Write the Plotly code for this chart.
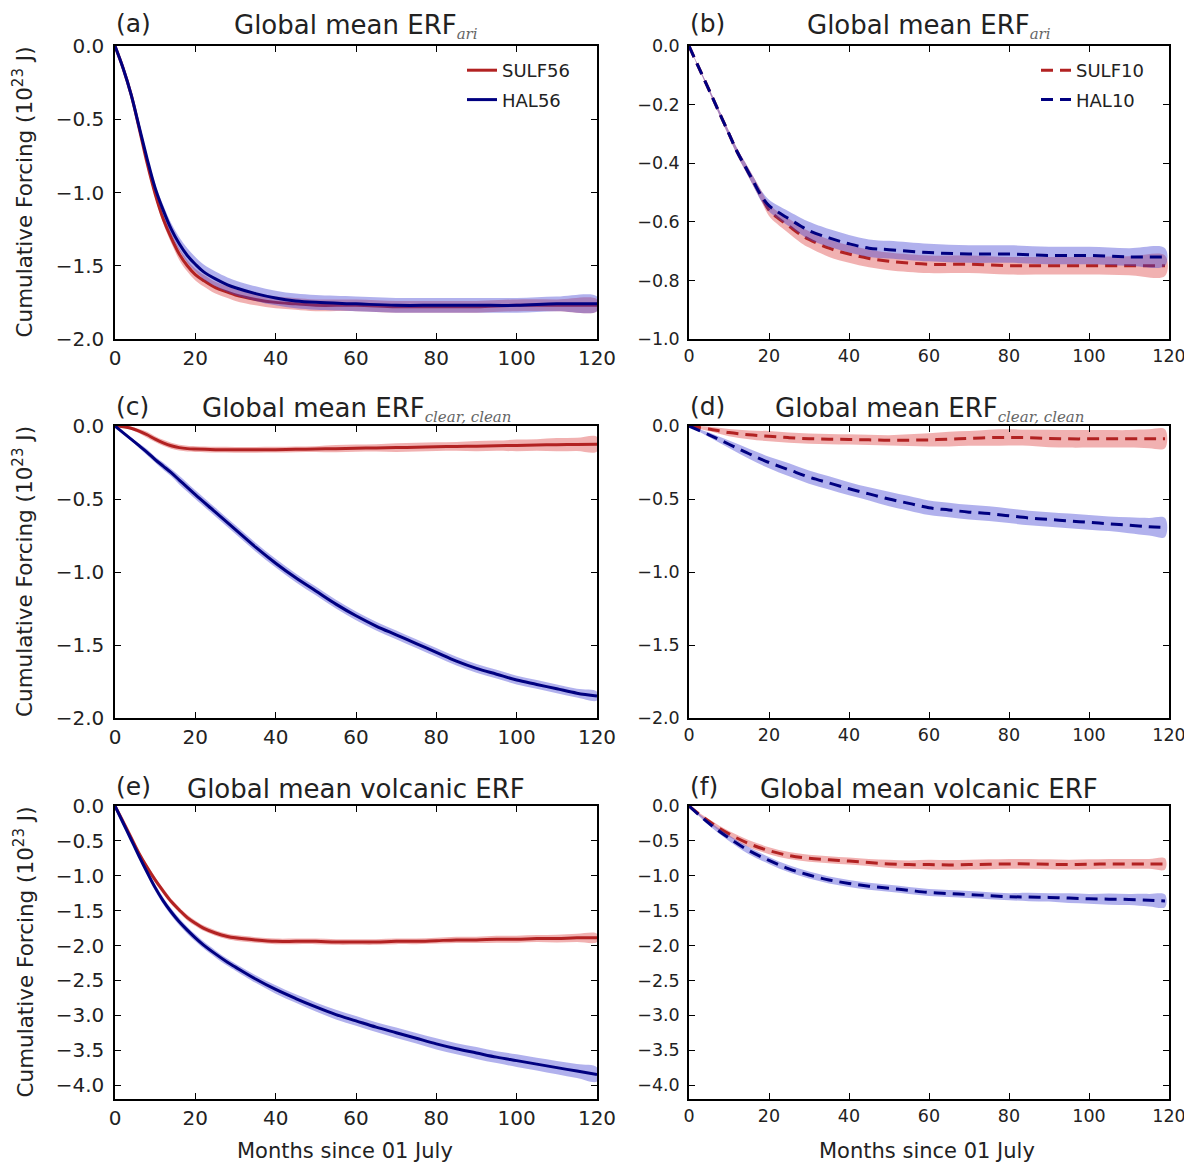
import plotly.graph_objects as go

# page is 1192x1167; the html body keeps an 8px margin, so the figure starts at (8, 8)
PAGE_W, PAGE_H = 1192, 1167
OFF = 8
W, H = PAGE_W - OFF, PAGE_H - OFF

# ---------------- data ----------------
# Panel (a) ERF_ari, 56 runs
months_a = [0, 2, 4, 6, 8, 10, 12, 14, 16, 18, 20, 22, 25, 28, 30, 35, 40, 45, 50, 60, 70, 80, 90, 100, 110, 120]
sulf56_a = [0, -0.15, -0.33, -0.56, -0.80, -1.01, -1.18, -1.31, -1.42, -1.50, -1.56, -1.60, -1.65, -1.68, -1.70,
            -1.73, -1.75, -1.76, -1.77, -1.77, -1.78, -1.78, -1.78, -1.77, -1.77, -1.77]
sulf56_a_sd = [0, 0.005, 0.01, 0.015, 0.02, 0.025, 0.03, 0.035, 0.04, 0.04, 0.04, 0.04, 0.04, 0.04, 0.04,
               0.04, 0.04, 0.04, 0.04, 0.04, 0.04, 0.04, 0.04, 0.04, 0.04, 0.04]
hal56_a = [0, -0.15, -0.33, -0.55, -0.77, -0.97, -1.12, -1.25, -1.35, -1.43, -1.49, -1.54, -1.59, -1.63, -1.65,
           -1.69, -1.72, -1.74, -1.75, -1.76, -1.77, -1.77, -1.77, -1.77, -1.76, -1.76]
hal56_a_sd = [0, 0.005, 0.01, 0.015, 0.02, 0.03, 0.035, 0.04, 0.045, 0.05, 0.05, 0.05, 0.05, 0.05, 0.05,
              0.05, 0.05, 0.05, 0.05, 0.05, 0.05, 0.05, 0.05, 0.05, 0.05, 0.05]

# Panel (b) ERF_ari, 10 runs
months_b = [0, 2, 4, 6, 8, 10, 12, 14, 16, 18, 20, 22, 25, 28, 30, 35, 40, 45, 50, 60, 70, 80, 90, 100, 110, 119]
sulf10_b = [0, -0.06, -0.12, -0.18, -0.24, -0.30, -0.36, -0.41, -0.46, -0.51, -0.56, -0.585, -0.615, -0.645,
            -0.66, -0.69, -0.71, -0.725, -0.735, -0.745, -0.745, -0.75, -0.75, -0.75, -0.75, -0.75]
sulf10_b_sd = [0, 0.003, 0.005, 0.007, 0.009, 0.01, 0.012, 0.014, 0.016, 0.018, 0.02, 0.022, 0.025, 0.027,
               0.028, 0.03, 0.03, 0.03, 0.03, 0.03, 0.03, 0.03, 0.03, 0.03, 0.032, 0.035]
hal10_b = [0, -0.06, -0.12, -0.18, -0.24, -0.30, -0.36, -0.41, -0.46, -0.51, -0.545, -0.565, -0.59, -0.615,
           -0.63, -0.655, -0.675, -0.69, -0.695, -0.705, -0.71, -0.71, -0.715, -0.715, -0.72, -0.72]
hal10_b_sd = [0, 0.003, 0.005, 0.007, 0.009, 0.01, 0.012, 0.014, 0.016, 0.018, 0.02, 0.022, 0.025, 0.028,
              0.03, 0.03, 0.03, 0.03, 0.03, 0.03, 0.03, 0.03, 0.03, 0.03, 0.03, 0.03]

# Panel (c) ERF_clear,clean, 56 runs
months_c = [0, 2, 4, 6, 8, 10, 12, 14, 16, 18, 20, 25, 30, 35, 40, 45, 50, 55, 60, 65, 70, 75, 80, 85, 90,
            95, 100, 105, 110, 115, 120]
sulf56_c = [0, -0.005, -0.015, -0.035, -0.06, -0.09, -0.115, -0.135, -0.148, -0.155, -0.158, -0.162, -0.163,
            -0.163, -0.162, -0.160, -0.158, -0.155, -0.152, -0.150, -0.148, -0.145, -0.142, -0.140, -0.138,
            -0.135, -0.133, -0.130, -0.128, -0.126, -0.125]
sulf56_c_sd = [0, 0.005, 0.01, 0.015, 0.02, 0.02, 0.02, 0.02, 0.02, 0.02, 0.02, 0.02, 0.02, 0.02, 0.02, 0.02,
               0.02, 0.025, 0.025, 0.025, 0.03, 0.03, 0.03, 0.03, 0.035, 0.035, 0.04, 0.04, 0.045, 0.045, 0.05]
hal56_c = [0, -0.045, -0.09, -0.135, -0.18, -0.23, -0.275, -0.32, -0.37, -0.42, -0.47, -0.59, -0.71, -0.83,
           -0.94, -1.04, -1.13, -1.22, -1.30, -1.37, -1.43, -1.49, -1.55, -1.61, -1.66, -1.70, -1.74, -1.77,
           -1.80, -1.83, -1.85]
hal56_c_sd = [0, 0.005, 0.01, 0.015, 0.02, 0.02, 0.025, 0.025, 0.03, 0.03, 0.03, 0.03, 0.03, 0.03, 0.03,
              0.03, 0.03, 0.03, 0.03, 0.03, 0.03, 0.03, 0.03, 0.03, 0.03, 0.03, 0.03, 0.03, 0.03, 0.03, 0.03]

# Panel (d) ERF_clear,clean, 10 runs
months_d = [0, 5, 10, 15, 20, 25, 30, 35, 40, 45, 50, 55, 60, 65, 70, 75, 80, 85, 90, 95, 100, 105, 110, 115, 119]
sulf10_d = [0, -0.02, -0.045, -0.06, -0.07, -0.08, -0.087, -0.09, -0.092, -0.095, -0.098, -0.097, -0.095,
            -0.09, -0.085, -0.08, -0.078, -0.08, -0.085, -0.088, -0.088, -0.088, -0.088, -0.088, -0.088]
sulf10_d_sd = [0, 0.015, 0.025, 0.03, 0.035, 0.035, 0.035, 0.035, 0.035, 0.035, 0.035, 0.04, 0.045, 0.05,
               0.05, 0.055, 0.055, 0.055, 0.06, 0.06, 0.06, 0.06, 0.06, 0.065, 0.065]
hal10_d = [0, -0.06, -0.125, -0.19, -0.25, -0.30, -0.35, -0.39, -0.43, -0.465, -0.50, -0.53, -0.56, -0.575,
           -0.59, -0.60, -0.615, -0.63, -0.64, -0.65, -0.66, -0.67, -0.68, -0.69, -0.695]
hal10_d_sd = [0, 0.015, 0.025, 0.035, 0.04, 0.045, 0.045, 0.045, 0.045, 0.045, 0.05, 0.05, 0.05, 0.05, 0.05,
              0.05, 0.05, 0.05, 0.05, 0.05, 0.05, 0.05, 0.055, 0.06, 0.065]

# Panel (e) volcanic ERF, 56 runs
months_e = [0, 2, 4, 6, 8, 10, 12, 14, 16, 18, 20, 22, 25, 28, 30, 35, 40, 45, 50, 55, 60, 65, 70, 75, 80,
            85, 90, 95, 100, 105, 110, 115, 120]
sulf56_e = [0, -0.22, -0.45, -0.68, -0.88, -1.06, -1.22, -1.37, -1.49, -1.60, -1.68, -1.75, -1.82, -1.87,
            -1.89, -1.92, -1.94, -1.94, -1.94, -1.95, -1.95, -1.95, -1.94, -1.94, -1.93, -1.92, -1.92, -1.91,
            -1.91, -1.90, -1.90, -1.89, -1.89]
sulf56_e_sd = [0, 0.01, 0.02, 0.03, 0.04, 0.04, 0.04, 0.04, 0.04, 0.04, 0.04, 0.04, 0.04, 0.04, 0.04, 0.04,
               0.04, 0.04, 0.04, 0.04, 0.04, 0.04, 0.04, 0.04, 0.04, 0.045, 0.045, 0.05, 0.05, 0.05, 0.055,
               0.06, 0.06]
hal56_e = [0, -0.24, -0.48, -0.72, -0.95, -1.17, -1.36, -1.52, -1.66, -1.78, -1.89, -1.99, -2.12, -2.24,
           -2.31, -2.48, -2.63, -2.76, -2.88, -2.99, -3.08, -3.17, -3.25, -3.33, -3.41, -3.48, -3.54, -3.60,
           -3.65, -3.70, -3.75, -3.80, -3.85]
hal56_e_sd = [0, 0.01, 0.02, 0.03, 0.04, 0.05, 0.05, 0.05, 0.05, 0.05, 0.05, 0.05, 0.05, 0.05, 0.05, 0.055,
              0.06, 0.06, 0.065, 0.07, 0.07, 0.07, 0.075, 0.075, 0.08, 0.08, 0.085, 0.085, 0.09, 0.09, 0.095,
              0.1, 0.1]

# Panel (f) volcanic ERF, 10 runs
months_f = [0, 5, 10, 15, 20, 25, 30, 35, 40, 45, 50, 55, 60, 65, 70, 75, 80, 85, 90, 95, 100, 105, 110, 115, 119]
sulf10_f = [0, -0.22, -0.40, -0.54, -0.64, -0.71, -0.75, -0.77, -0.79, -0.81, -0.83, -0.84, -0.84, -0.845,
            -0.84, -0.835, -0.83, -0.83, -0.835, -0.84, -0.835, -0.83, -0.83, -0.83, -0.83]
sulf10_f_sd = [0, 0.03, 0.04, 0.05, 0.05, 0.05, 0.05, 0.05, 0.05, 0.05, 0.06, 0.06, 0.07, 0.07, 0.07, 0.07,
               0.07, 0.07, 0.07, 0.07, 0.07, 0.07, 0.07, 0.07, 0.08]
hal10_f = [0, -0.25, -0.46, -0.64, -0.78, -0.90, -0.99, -1.06, -1.11, -1.15, -1.18, -1.21, -1.24, -1.255,
           -1.27, -1.285, -1.30, -1.305, -1.31, -1.32, -1.33, -1.335, -1.34, -1.35, -1.36]
hal10_f_sd = [0, 0.03, 0.04, 0.05, 0.05, 0.05, 0.05, 0.05, 0.05, 0.05, 0.05, 0.05, 0.05, 0.05, 0.05, 0.05,
              0.05, 0.06, 0.06, 0.07, 0.07, 0.08, 0.08, 0.09, 0.09]

panel_labels = ["(a)", "(b)", "(c)", "(d)", "(e)", "(f)"]
SUBSTYLE = "font-family:'DejaVu Serif';font-style:italic;font-size:15px;fill:#666666"
sub_ari = "<sub><span style=\"" + SUBSTYLE + "\">ari</span></sub>"
sub_cc = "<sub><span style=\"" + SUBSTYLE + "\">clear, clean</span></sub>"
panel_titles = ["Global mean ERF" + sub_ari, "Global mean ERF" + sub_ari,
                "Global mean ERF" + sub_cc, "Global mean ERF" + sub_cc,
                "Global mean volcanic ERF", "Global mean volcanic ERF"]
y_ranges = [[-2.0, 0.0], [-1.0, 0.0], [-2.0, 0.0], [-2.0, 0.0], [-4.2, 0.0], [-4.2, 0.0]]
y_dticks = [0.5, 0.2, 0.5, 0.5, 0.5, 0.5]
x_ticks = [0, 20, 40, 60, 80, 100, 120]
y_label = "Cumulative Forcing (10<sup>23</sup> J)"
x_label = "Months since 01 July"
names_56 = ["SULF56", "HAL56"]
names_10 = ["SULF10", "HAL10"]

# ---------------- style ----------------
FONT = "DejaVu Sans"
SULF_LINE = "rgb(178,34,34)"
HAL_LINE = "rgb(0,0,128)"
SULF_FILL = "rgba(220,60,60,0.40)"
HAL_FILL = "rgba(60,60,210,0.40)"
TXT = "#222222"

def px_x(p):
    return (p - OFF) / W

def px_y(p):
    return 1 - (p - OFF) / H

col_dom = [[px_x(115), px_x(597)], [px_x(689), px_x(1169)]]
row_dom = [[px_y(339), px_y(46)], [px_y(718), px_y(426)], [px_y(1099), px_y(806)]]

fig = go.Figure()

panels = [
    (months_a, sulf56_a, sulf56_a_sd, hal56_a, hal56_a_sd, "solid", names_56, "legend"),
    (months_b, sulf10_b, sulf10_b_sd, hal10_b, hal10_b_sd, "12px,7px", names_10, "legend2"),
    (months_c, sulf56_c, sulf56_c_sd, hal56_c, hal56_c_sd, "solid", names_56, None),
    (months_d, sulf10_d, sulf10_d_sd, hal10_d, hal10_d_sd, "12px,7px", names_10, None),
    (months_e, sulf56_e, sulf56_e_sd, hal56_e, hal56_e_sd, "solid", names_56, None),
    (months_f, sulf10_f, sulf10_f_sd, hal10_f, hal10_f_sd, "12px,7px", names_10, None),
]

for i, (xs, s_m, s_sd, h_m, h_sd, dash, names, leg) in enumerate(panels):
    ax = "" if i == 0 else str(i + 1)
    xa, ya = "x" + ax, "y" + ax
    for mean, sd, lc, fc, nm in [(s_m, s_sd, SULF_LINE, SULF_FILL, names[0]),
                                 (h_m, h_sd, HAL_LINE, HAL_FILL, names[1])]:
        upper = [m + s for m, s in zip(mean, sd)]
        lower = [m - s for m, s in zip(mean, sd)]
        fig.add_trace(go.Scatter(x=list(xs) + list(xs)[::-1], y=upper + lower[::-1],
                                 fill="toself", fillcolor=fc, line=dict(width=0, shape="spline"),
                                 mode="lines", hoverinfo="skip", showlegend=False,
                                 xaxis=xa, yaxis=ya))
        fig.add_trace(go.Scatter(x=xs, y=mean, mode="lines", name=nm, legendgroup=nm,
                                 line=dict(color=lc, width=3, dash=dash, shape="spline"),
                                 showlegend=leg is not None, legend=leg if leg else "legend",
                                 xaxis=xa, yaxis=ya))

layout = dict(width=W, height=H, autosize=False,
              margin=dict(l=0, r=0, t=0, b=0, pad=0, autoexpand=False),
              paper_bgcolor="white", plot_bgcolor="white",
              font=dict(family=FONT, color=TXT))

annotations = []
for i in range(6):
    r, c = divmod(i, 2)
    ax = "" if i == 0 else str(i + 1)
    tick_size = 20 if c == 0 else 17.5
    standoff = 5 if c == 0 else 4
    layout["xaxis" + ax] = dict(domain=col_dom[c], anchor="y" + ax, range=[0, 120],
                                tickvals=x_ticks, ticks="inside", ticklen=6, tickcolor="black",
                                showline=True, linecolor="black", linewidth=1.5, mirror="allticks",
                                showgrid=False, zeroline=False, automargin=False,
                                ticklabeloverflow="allow",
                                tickfont=dict(size=tick_size, color=TXT))
    layout["yaxis" + ax] = dict(domain=row_dom[r], anchor="x" + ax, range=y_ranges[i],
                                dtick=y_dticks[i], tick0=0, tickformat=".1f",
                                ticks="inside", ticklen=6, tickcolor="black",
                                showline=True, linecolor="black", linewidth=1.5, mirror="allticks",
                                showgrid=False, zeroline=False, automargin=False,
                                ticklabelstandoff=standoff, ticklabeloverflow="allow",
                                tickfont=dict(size=tick_size, color=TXT))

# panel labels and titles
label_y = [23, 406, 786]
title_cx = [356, 929, 356, 929, 356, 929]
for i in range(6):
    r, c = divmod(i, 2)
    left_px = 115 if c == 0 else 689
    annotations.append(dict(text=panel_labels[i], x=px_x(left_px - 1), y=px_y(label_y[r]),
                            xref="paper", yref="paper", xanchor="left", yanchor="middle",
                            showarrow=False, font=dict(size=25, color=TXT)))
    annotations.append(dict(text=panel_titles[i], x=px_x(title_cx[i]), y=px_y(label_y[r] + 3),
                            xref="paper", yref="paper", xanchor="center", yanchor="middle",
                            showarrow=False, font=dict(size=26, color=TXT)))

# y-axis titles (left column)
for r in range(3):
    cy = (row_dom[r][0] + row_dom[r][1]) / 2
    annotations.append(dict(text=y_label, x=px_x(23), y=cy, xref="paper", yref="paper",
                            xanchor="center", yanchor="middle", textangle=-90, showarrow=False,
                            font=dict(size=21.5, color=TXT)))
# x-axis titles (bottom row)
for cx in [345, 927]:
    annotations.append(dict(text=x_label, x=px_x(cx), y=px_y(1151), xref="paper", yref="paper",
                            xanchor="center", yanchor="middle", showarrow=False,
                            font=dict(size=21, color=TXT)))

layout["annotations"] = annotations
layout["legend"] = dict(x=px_x(462), y=px_y(52), xanchor="left", yanchor="top",
                        bgcolor="rgba(0,0,0,0)", font=dict(size=18, color=TXT),
                        itemwidth=30, tracegroupgap=3)
layout["legend2"] = dict(x=px_x(1036), y=px_y(52), xanchor="left", yanchor="top",
                         bgcolor="rgba(0,0,0,0)", font=dict(size=18, color=TXT),
                         itemwidth=30, tracegroupgap=3)

fig.update_layout(**layout)
fig.write_html("out.html")
